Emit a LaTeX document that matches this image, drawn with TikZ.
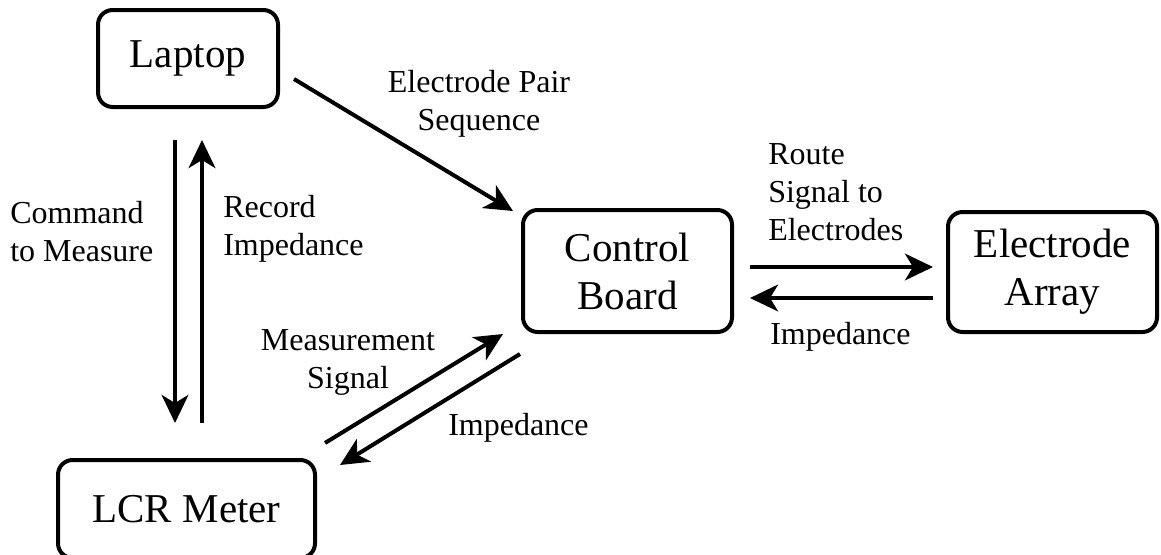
\documentclass[tikz,border=0pt]{standalone}
\usepackage{fontspec}
\setmainfont{Liberation Serif}
\usepackage{tikz}
\usetikzlibrary{arrows.meta, calc}

\tikzset{
  blockbox/.style={draw, line width=3pt, rounded corners=11pt, align=center,
    font=\fontsize{30.75}{36}\selectfont},
  flowarrow/.style={line width=3pt, -{Stealth[length=21pt, width=20pt, inset=6pt]}},
  flowlabel/.style={inner sep=0pt, font=\fontsize{24}{28.5}\selectfont}
}

\begin{document}
\begin{tikzpicture}[x=0.75pt,y=0.75pt,yscale=-1,xscale=1]
\useasboundingbox (0,0) rectangle (1161,554);

% Blocks
\node [blockbox, minimum width=135pt, minimum height=72.75pt] (laptop) at (188,58.5) {Laptop};
\node [blockbox, minimum width=192.75pt, minimum height=73.5pt] (lcr) at (186.5,509) {LCR Meter};
\node [blockbox, minimum width=156.75pt, minimum height=91.5pt] (control) at (627.5,271) {Control\\Board};
\node [blockbox, minimum width=156.75pt, minimum height=90pt] (array) at (1052.5,272) {Electrode\\Array};

% Laptop <-> LCR Meter
\draw [flowarrow] ($(laptop.south)+(-13,31)$) -- ($(lcr.north)+(-11.5,-35)$);
\draw [flowarrow] ($(lcr.north)+(15.5,-35)$) -- ($(laptop.south)+(14,31)$);

% Laptop -> Control Board
\draw [flowarrow] ($(laptop.south east)+(14,-30)$) -- ($(control.north west)+(-8,3)$);

% LCR Meter <-> Control Board
\draw [flowarrow] ($(lcr.north east)+(8,-15)$) -- ($(control.south west)+(-18,0)$);
\draw [flowarrow] ($(control.south west)+(-1,20)$) -- ($(lcr.north east)+(23,7)$);

% Control Board <-> Electrode Array
\draw [flowarrow] ($(control.east)+(16,-4)$) -- ($(array.west)+(-13,-5)$);
\draw [flowarrow] ($(array.west)+(-13,26)$) -- ($(control.east)+(16,27)$);

% Labels
\node [flowlabel, align=center] (seqlabel) at (479,104) {Electrode Pair\\Sequence};
\node [flowlabel, align=left, anchor=west] (cmdlabel) at (10,232) {Command\\to Measure};
\node [flowlabel, align=left, anchor=west] (reclabel) at (223,229) {Record\\Impedance};
\node [flowlabel, align=left, anchor=west] (routelabel) at (768,192) {Route\\Signal to\\Electrodes};
\node [flowlabel, anchor=west] (arrayimp) at (770,337) {Impedance};
\node [flowlabel, align=center] (measlabel) at (348,362.5) {Measurement\\Signal};
\node [flowlabel, anchor=west] (lcrimp) at (448,428) {Impedance};

\end{tikzpicture}
\end{document}
